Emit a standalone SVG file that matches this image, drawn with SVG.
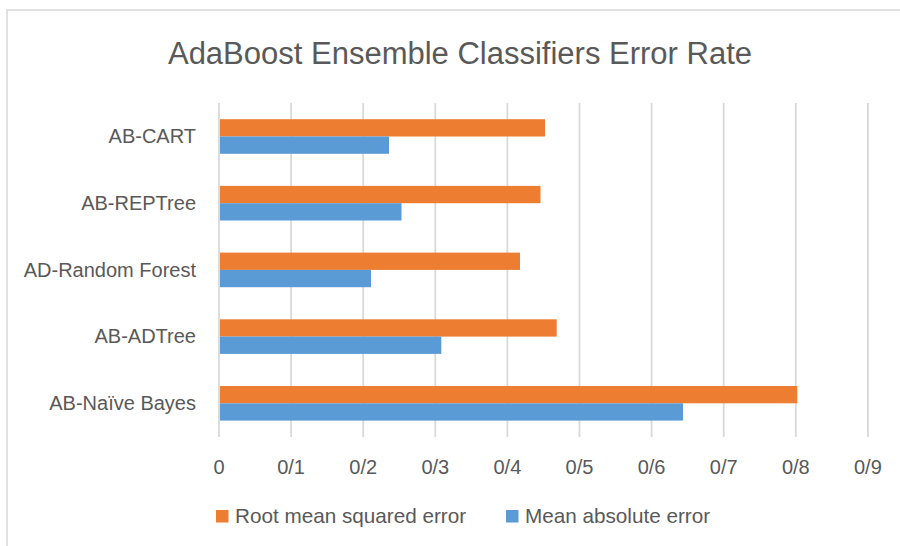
<svg xmlns="http://www.w3.org/2000/svg" width="900" height="546" viewBox="0 0 900 546">
<style>
text{font-family:"Liberation Sans",Arial,sans-serif;fill:#595959}
.t{font-size:31px}
.c{font-size:20px;text-anchor:end}
.a{font-size:20px;text-anchor:middle}
.l{font-size:20.7px}
.g{stroke:#D9D9D9;stroke-width:1.8}
.o{fill:#ED7D31}
.b{fill:#5B9BD5}
</style>
<rect x="0" y="0" width="900" height="546" fill="#fff"/>
<rect x="7" y="10" width="1000" height="1000" fill="#fff" stroke="#D9D9D9" stroke-width="1.5"/>
<text class="t" x="460" y="64" text-anchor="middle">AdaBoost Ensemble Classifiers Error Rate</text>
<g id="grid">
<line class="g" x1="219" y1="103" x2="219" y2="437"/>
<line class="g" x1="291.1" y1="103" x2="291.1" y2="437"/>
<line class="g" x1="363.2" y1="103" x2="363.2" y2="437"/>
<line class="g" x1="435.3" y1="103" x2="435.3" y2="437"/>
<line class="g" x1="507.4" y1="103" x2="507.4" y2="437"/>
<line class="g" x1="579.5" y1="103" x2="579.5" y2="437"/>
<line class="g" x1="651.6" y1="103" x2="651.6" y2="437"/>
<line class="g" x1="723.7" y1="103" x2="723.7" y2="437"/>
<line class="g" x1="795.8" y1="103" x2="795.8" y2="437"/>
<line class="g" x1="867.9" y1="103" x2="867.9" y2="437"/>
</g>
<g id="bars">
<rect class="o" x="220" y="119.2" width="325" height="17.3"/>
<rect class="b" x="220" y="136.5" width="169" height="17.3"/>
<rect class="o" x="220" y="185.9" width="320.5" height="17.3"/>
<rect class="b" x="220" y="203.2" width="181.5" height="17.3"/>
<rect class="o" x="220" y="252.6" width="300" height="17.3"/>
<rect class="b" x="220" y="269.9" width="151" height="17.3"/>
<rect class="o" x="220" y="319.3" width="336.7" height="17.3"/>
<rect class="b" x="220" y="336.6" width="221.3" height="17.3"/>
<rect class="o" x="220" y="386" width="577.3" height="17.3"/>
<rect class="b" x="220" y="403.3" width="463" height="17.3"/>
</g>
<g id="categories">
<text class="c" x="196" y="143">AB-CART</text>
<text class="c" x="196" y="210">AB-REPTree</text>
<text class="c" x="196" y="277">AD-Random Forest</text>
<text class="c" x="196" y="343">AB-ADTree</text>
<text class="c" x="196" y="410">AB-Naïve Bayes</text>
</g>
<g id="ticks">
<text class="a" x="219" y="474">0</text>
<text class="a" x="291.1" y="474">0/1</text>
<text class="a" x="363.2" y="474">0/2</text>
<text class="a" x="435.3" y="474">0/3</text>
<text class="a" x="507.4" y="474">0/4</text>
<text class="a" x="579.5" y="474">0/5</text>
<text class="a" x="651.6" y="474">0/6</text>
<text class="a" x="723.7" y="474">0/7</text>
<text class="a" x="795.8" y="474">0/8</text>
<text class="a" x="867.9" y="474">0/9</text>
</g>
<g id="legend">
<rect class="o" x="216" y="510" width="12.5" height="12.5"/>
<text class="l" x="235" y="523">Root mean squared error</text>
<rect class="b" x="506" y="510" width="12.5" height="12.5"/>
<text class="l" x="525" y="523">Mean absolute error</text>
</g>
</svg>
